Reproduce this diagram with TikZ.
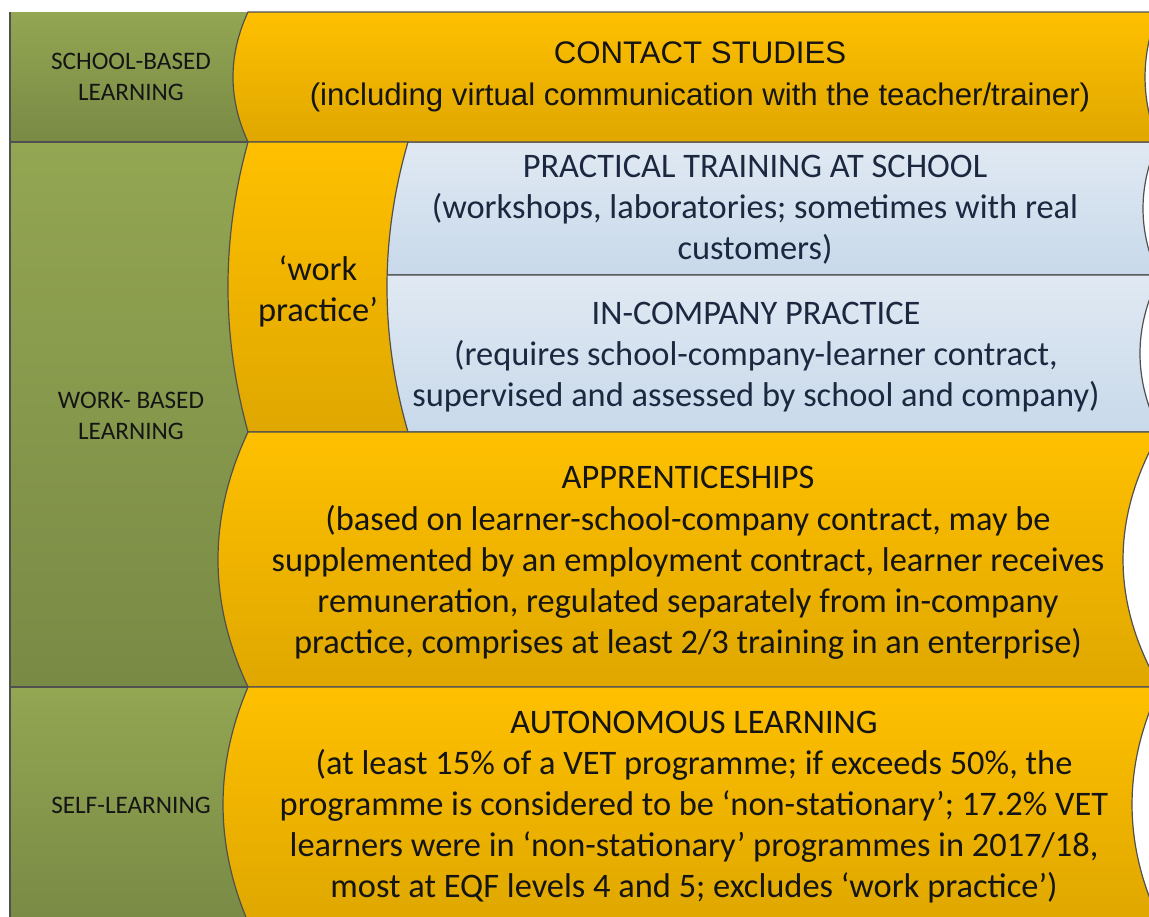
\documentclass[tikz,border=0pt]{standalone}
\usepackage{fontspec}
\setmainfont{Carlito}
\newfontfamily\arialfont{Liberation Sans}
\definecolor{greentop}{HTML}{93A652}
\definecolor{greenbot}{HTML}{798A45}
\definecolor{goldtop}{HTML}{FFC000}
\definecolor{goldbot}{HTML}{DFA700}
\definecolor{bluetop}{HTML}{E0E9F3}
\definecolor{bluebot}{HTML}{C8D9EA}
\definecolor{edge}{HTML}{505050}
\definecolor{navy}{HTML}{1C2840}
\definecolor{ink}{HTML}{151515}
\tikzset{
  greenrow/.style={top color=greentop, bottom color=greenbot},
  goldrow/.style={top color=goldtop, bottom color=goldbot, draw=edge, line width=0.6pt},
  bluerow/.style={top color=bluetop, bottom color=bluebot, draw=edge, line width=0.6pt},
  sepline/.style={draw=edge, line width=0.9pt},
  lbl/.style={font=\fontsize{12.6}{15.5}\selectfont, align=center, text=ink, inner sep=0pt},
  body/.style={font=\fontsize{17.2}{20.6}\selectfont, align=center, text=ink, inner sep=0pt},
  bluebody/.style={body, text=navy},
  arialbody/.style={font=\arialfont\fontsize{15.6}{21}\selectfont, align=center, text=ink, inner sep=0pt}
}
\begin{document}
\begin{tikzpicture}[x=0.5pt, y=-0.5pt]
\useasboundingbox (0,0) rectangle (1149,916);
\clip (0,0) rectangle (1149,916);
\fill[white] (0,0) rectangle (1149,916);
% green column
\path[greenrow] (10,12) rectangle (262,142);
\path[greenrow] (10,142) rectangle (262,687);
\path[greenrow] (10,687) rectangle (262,922);
\draw[sepline] (10,12) -- (10,922);
\draw[sepline] (10,142) -- (262,142);
\draw[sepline] (10,687) -- (262,687);
% blue rows (left part hidden under work practice band)
\path[bluerow] (370,142) -- (1158,142) .. controls (1138,186.3) and (1138,230.7) .. (1158,275) -- (370,275) -- cycle;
\path[bluerow] (370,275) -- (1160,275) .. controls (1133.3,327.3) and (1133.3,379.7) .. (1160,432) -- (370,432) -- cycle;
% gold rows
\path[goldrow] (248,12) -- (1158,12) .. controls (1140.7,55.3) and (1140.7,98.7) .. (1158,142) -- (248,142) .. controls (228,98.7) and (228,55.3) .. (248,12) -- cycle;
\path[goldrow] (248,142) -- (408,142) .. controls (380,238.7) and (380,335.3) .. (408,432) -- (248,432) .. controls (221.3,335.3) and (221.3,238.7) .. (248,142) -- cycle;
\path[goldrow] (248,432) -- (1160,432) .. controls (1110.7,517) and (1110.7,602) .. (1160,687) -- (248,687) .. controls (208,602) and (208,517) .. (248,432) -- cycle;
\path[goldrow] (248,687) -- (1160,687) .. controls (1122.7,765.3) and (1122.7,843.7) .. (1160,922) -- (248,922) .. controls (214.7,843.7) and (214.7,765.3) .. (248,687) -- cycle;
% labels
\node[lbl] (school) at (131,77) {SCHOOL-BASED\\LEARNING};
\node[lbl] (work) at (131,416) {WORK- BASED\\LEARNING};
\node[lbl] (self) at (131,805) {SELF-LEARNING};
\node[arialbody] (contact) at (700,77) {CONTACT STUDIES\\(including virtual communication with the teacher/trainer)};
\node[body] (wp) at (318,291) {‘work\\practice’};
\node[bluebody] (practical) at (755,210) {PRACTICAL TRAINING AT SCHOOL\\(workshops, laboratories; sometimes with real\\customers)};
\node[bluebody] (company) at (756,357) {IN-COMPANY PRACTICE\\(requires school-company-learner contract,\\supervised and assessed by school and company)};
\node[body] (appr) at (688,563) {APPRENTICESHIPS\\(based on learner-school-company contract, may be\\supplemented by an employment contract, learner receives\\remuneration, regulated separately from in-company\\practice, comprises at least 2/3 training in an enterprise)};
\node[body] (auto) at (694,807) {AUTONOMOUS LEARNING\\(at least 15\% of a VET programme; if exceeds 50\%, the\\programme is considered to be ‘non-stationary’; 17.2\% VET\\learners were in ‘non-stationary’ programmes in 2017/18,\\most at EQF levels 4 and 5; excludes ‘work practice’)};
\end{tikzpicture}
\end{document}
